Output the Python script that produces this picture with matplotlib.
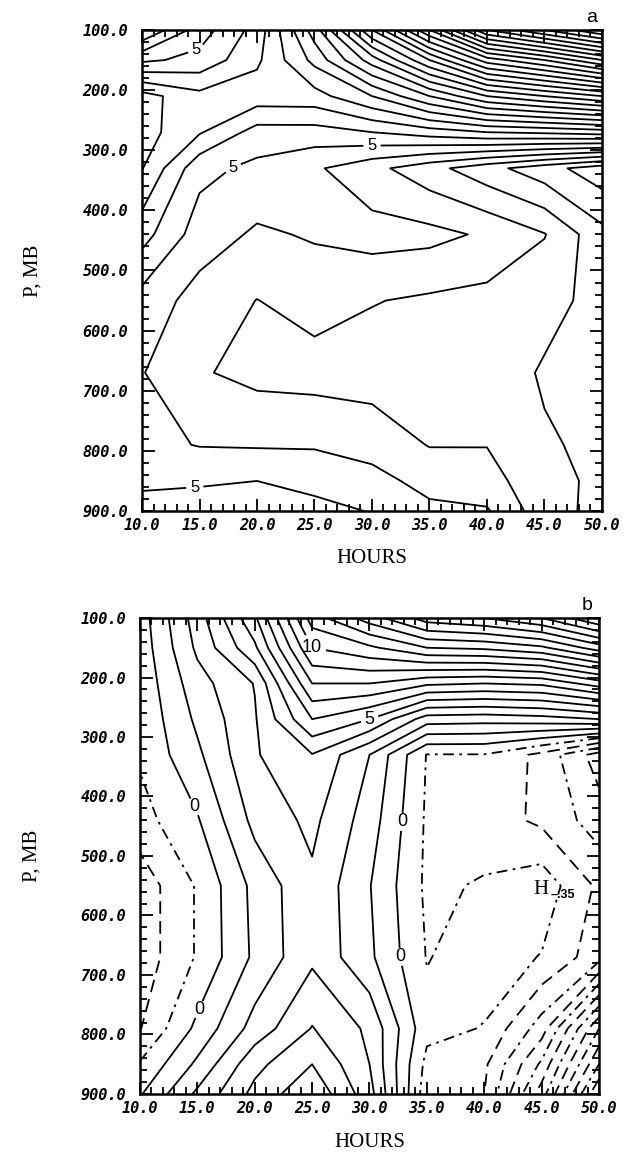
import numpy as np
import matplotlib
matplotlib.use("Agg")
import matplotlib.pyplot as plt
from matplotlib.ticker import MultipleLocator

# grid of the cross sections
hours = [10, 15, 20, 25, 30, 35, 40, 45, 50]
pressure = [100, 150, 210, 270, 330, 440, 550, 670, 790, 850, 900]

x_ticks = [10, 15, 20, 25, 30, 35, 40, 45, 50]
p_ticks = [100, 200, 300, 400, 500, 600, 700, 800, 900]

# panel a, one row per pressure level (values at the hours above)
a_p100 = [2.0, 4.5, 6.4, 10.5, 16.0, 21.0, 26.0, 28.0, 30.0]
a_p150 = [4.8, 5.3, 6.8, 9.3, 12.5, 16.0, 19.5, 21.0, 23.0]
a_p210 = [8.4, 7.3, 7.55, 7.6, 9.0, 11.0, 13.0, 14.0, 15.0]
a_p270 = [8.45, 7.1, 5.6, 5.6, 6.0, 6.5, 7.0, 7.2, 7.5]
a_p330 = [8.05, 5.3, 4.75, 4.15, 3.3, 2.35, 1.35, 0.4, -0.6]
a_p440 = [6.4, 4.5, 3.85, 4.1, 4.4, 4.3, 3.85, 3.05, 1.3]
a_p550 = [4.6, 3.6, 2.98, 3.4, 3.05, 2.84, 2.68, 2.3, 1.7]
a_p670 = [4.05, 3.1, 2.7, 2.6, 2.5, 2.4, 2.5, 1.9, 1.75]
a_p790 = [4.3, 3.95, 3.9, 3.9, 3.65, 2.95, 2.97, 2.1, 1.8]
a_p850 = [4.85, 4.9, 5.0, 4.7, 4.3, 3.7, 3.4, 2.3, 1.8]
a_p900 = [5.3, 5.4, 5.5, 5.3, 4.95, 4.2, 4.1, 2.4, 1.7]

# panel b
b_p100 = [-0.5, 2.5, 5.8, 11.5, 13.5, 15.5, 16.0, 17.0, 19.0]
b_p150 = [-0.6, 2.2, 4.8, 10.0, 10.8, 12.0, 12.2, 12.8, 14.5]
b_p210 = [-0.7, 1.6, 3.05, 8.0, 8.0, 7.2, 7.0, 7.2, 8.5]
b_p270 = [-0.8, 1.2, 2.9, 6.0, 5.0, 2.5, 2.4, 2.6, 3.0]
b_p330 = [-0.85, 0.8, 2.9, 3.95, 2.0, -1.05, -1.05, -2.3, -4.5]
b_p440 = [-1.4, -0.1, 2.3, 3.25, 1.5, -1.15, -1.5, -2.2, -3.5]
b_p550 = [-2.6, -0.9, 1.3, 2.8, 1.05, -1.2, -0.9, -0.4, -2.2]
b_p670 = [-2.6, -0.9, 1.2, 2.8, 1.2, -1.05, -0.5, -1.05, -2.6]
b_p790 = [-2.05, 0.25, 2.4, 4.05, 2.8, -0.7, -1.05, -3.5, -9.0]
b_p850 = [-0.9, 1.2, 3.7, 5.0, 3.0, -1.3, -1.8, -5.2, -11.0]
b_p900 = [-0.1, 2.2, 4.3, 5.8, 3.4, -1.6, -2.0, -6.5, -13.0]

a_label_levels = [5]
a_label_pos = [(14.8, 137), (17.5, 310), (30.0, 290), (14.6, 864)]
b_label_levels = [0, 5, 10]
b_label_pos = [(25.0, 150), (30.0, 269), (15.0, 415), (15.0, 757), (33.0, 443), (32.4, 670)]
b_min_pos = (44.9, 556)
b_min_text = "\u2013.35"

plt.rcParams["font.family"] = ["Liberation Sans", "DejaVu Sans"]

a_grid = np.array([a_p100, a_p150, a_p210, a_p270, a_p330, a_p440,
                   a_p550, a_p670, a_p790, a_p850, a_p900])
b_grid = np.array([b_p100, b_p150, b_p210, b_p270, b_p330, b_p440,
                   b_p550, b_p670, b_p790, b_p850, b_p900])

fig = plt.figure(figsize=(6.32, 11.53), dpi=100)
ax_a = fig.add_axes([0.2247, 0.5568, 0.7278, 0.4172])
ax_b = fig.add_axes([0.2215, 0.0512, 0.7263, 0.4128])

tick_font = dict(fontfamily="DejaVu Sans Mono", fontstyle="oblique",
                 fontweight="bold", fontsize=11)
label_font = dict(fontfamily="Liberation Serif", fontsize=15)
LW = 1.3


def style_axes(ax, ylab_x, xlab_y):
    ax.set_xlim(10, 50)
    ax.set_ylim(900, 100)
    ax.set_xticks(x_ticks, ["%.1f" % t for t in x_ticks], **tick_font)
    ax.set_yticks(p_ticks, ["%.1f" % t for t in p_ticks], **tick_font)
    ax.xaxis.set_minor_locator(MultipleLocator(1))
    ax.yaxis.set_minor_locator(MultipleLocator(20))
    ax.tick_params(which="both", direction="in", top=True, right=True, width=1.3)
    ax.tick_params(which="major", length=9)
    ax.tick_params(which="minor", length=5)
    ax.tick_params(axis="y", pad=10)
    ax.tick_params(axis="x", pad=5)
    for s in ax.spines.values():
        s.set_linewidth(1.8)
    ax.set_xlabel("HOURS", **label_font)
    ax.set_ylabel("P, MB", **label_font)
    ax.xaxis.set_label_coords(0.5, xlab_y)
    ax.yaxis.set_label_coords(ylab_x, 0.5)


def labeled(ax, grid, levels, positions, size):
    cs = ax.contour(hours, pressure, grid, levels=levels, colors="k",
                    linewidths=LW, linestyles="solid")
    texts = ax.clabel(cs, manual=positions, fmt="%d", fontsize=size,
                      inline=True, inline_spacing=4)
    for t in texts:
        t.set_rotation(0)


# panel a
levels_a = [lv for lv in range(-1, 31) if lv not in a_label_levels]
ax_a.contour(hours, pressure, a_grid, levels=levels_a, colors="k",
             linewidths=LW, linestyles="solid")
labeled(ax_a, a_grid, a_label_levels, a_label_pos, 12)
style_axes(ax_a, -0.217, -0.079)
ax_a.text(0.978, 1.025, "a", transform=ax_a.transAxes, ha="center",
          va="center", fontsize=14)

# panel b, negative contours dashed
levels_b = [lv for lv in range(-13, 25) if lv not in b_label_levels]
neg_styles = [(0, (6, 3, 1.5, 3)), (0, (7, 4))]
styles_b = []
for lv in levels_b:
    if lv < 0:
        styles_b.append(neg_styles[(-lv - 1) % 2])
    else:
        styles_b.append("solid")
ax_b.contour(hours, pressure, b_grid, levels=levels_b, colors="k",
             linewidths=LW, linestyles=styles_b)
labeled(ax_b, b_grid, b_label_levels, b_label_pos, 13)
ax_b.text(b_min_pos[0], b_min_pos[1], "H", ha="center", va="center",
          fontfamily="Liberation Serif", fontsize=15)
ax_b.text(b_min_pos[0] + 0.9, b_min_pos[1] + 9, b_min_text, ha="left",
          va="center", fontsize=9, fontweight="bold")
style_axes(ax_b, -0.2135, -0.082)
ax_b.text(0.974, 1.027, "b", transform=ax_b.transAxes, ha="center",
          va="center", fontsize=14)

fig.savefig("out.png", dpi=100)
